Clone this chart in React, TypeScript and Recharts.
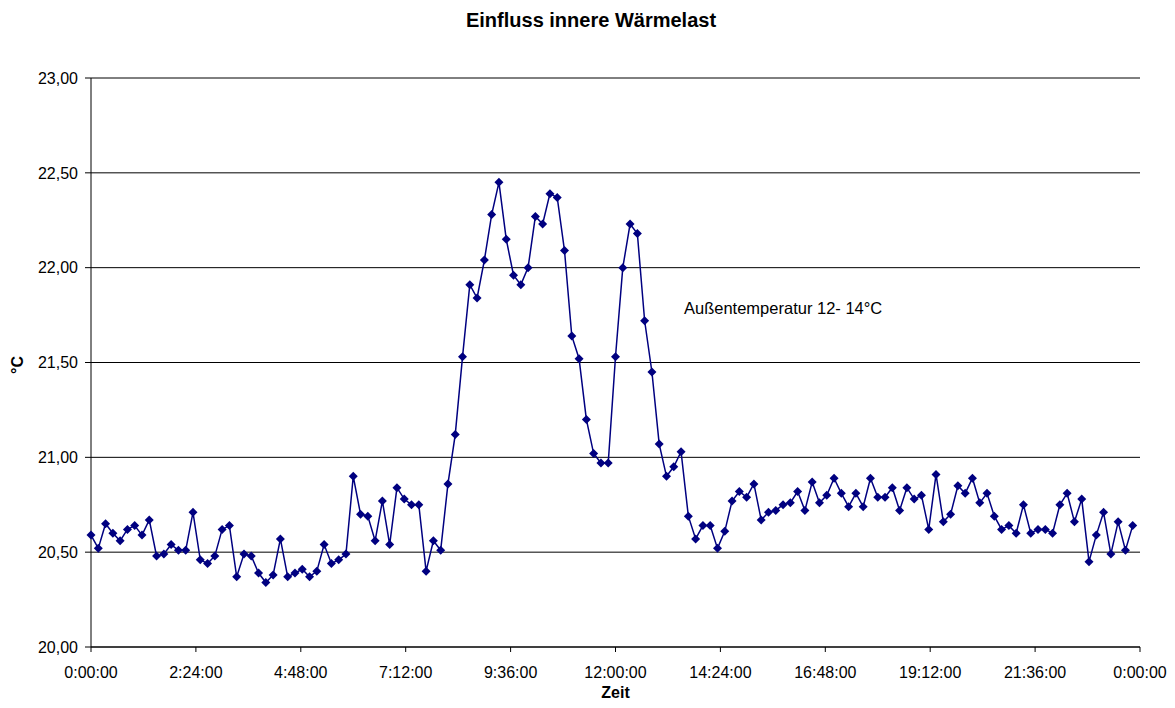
import { LineChart, Line, XAxis, YAxis, CartesianGrid } from 'recharts';

// Raumtemperatur in °C, 10-Minuten-Werte von 0:00 bis 23:50
const temps = [
  20.59, 20.52, 20.65, 20.60, 20.56, 20.62, 20.64, 20.59, 20.67, 20.48,
  20.49, 20.54, 20.51, 20.51, 20.71, 20.46, 20.44, 20.48, 20.62, 20.64,
  20.37, 20.49, 20.48, 20.39, 20.34, 20.38, 20.57, 20.37, 20.39, 20.41,
  20.37, 20.40, 20.54, 20.44, 20.46, 20.49, 20.90, 20.70, 20.69, 20.56,
  20.77, 20.54, 20.84, 20.78, 20.75, 20.75, 20.40, 20.56, 20.51, 20.86,
  21.12, 21.53, 21.91, 21.84, 22.04, 22.28, 22.45, 22.15, 21.96, 21.91,
  22.00, 22.27, 22.23, 22.39, 22.37, 22.09, 21.64, 21.52, 21.20, 21.02,
  20.97, 20.97, 21.53, 22.00, 22.23, 22.18, 21.72, 21.45, 21.07, 20.90,
  20.95, 21.03, 20.69, 20.57, 20.64, 20.64, 20.52, 20.61, 20.77, 20.82,
  20.79, 20.86, 20.67, 20.71, 20.72, 20.75, 20.76, 20.82, 20.72, 20.87,
  20.76, 20.80, 20.89, 20.81, 20.74, 20.81, 20.74, 20.89, 20.79, 20.79,
  20.84, 20.72, 20.84, 20.78, 20.80, 20.62, 20.91, 20.66, 20.70, 20.85,
  20.81, 20.89, 20.76, 20.81, 20.69, 20.62, 20.64, 20.60, 20.75, 20.60,
  20.62, 20.62, 20.60, 20.75, 20.81, 20.66, 20.78, 20.45, 20.59, 20.71,
  20.49, 20.66, 20.51, 20.64,
];

const STEP_MIN = 10;

const xTicks = [0, 144, 288, 432, 576, 720, 864, 1008, 1152, 1296, 1440];
const xLabels = [
  '0:00:00', '2:24:00', '4:48:00', '7:12:00', '9:36:00', '12:00:00',
  '14:24:00', '16:48:00', '19:12:00', '21:36:00', '0:00:00',
];
const yTicks = [20, 20.5, 21, 21.5, 22, 22.5, 23];

const data = temps.map((v, i) => ({ min: i * STEP_MIN, v }));

const FONT = '"Liberation Sans", Arial, sans-serif';
const NAVY = '#000080';

const Diamond = (props: any) => {
  const { cx, cy, index } = props;
  if (cx == null || cy == null) return null;
  const r = 4.5;
  return (
    <polygon
      key={`d-${index}`}
      points={`${cx},${cy - r} ${cx + r},${cy} ${cx},${cy + r} ${cx - r},${cy}`}
      fill={NAVY}
    />
  );
};

export default function App() {
  return (
    <div
      style={{
        position: 'relative',
        width: 1160,
        height: 692,
        fontFamily: FONT,
        color: '#000',
      }}
    >
      <div
        style={{
          position: 'absolute',
          left: 583,
          top: 2,
          transform: 'translateX(-50%)',
          fontSize: 20,
          fontWeight: 'bold',
          lineHeight: 1,
          whiteSpace: 'nowrap',
        }}
      >
        Einfluss innere Wärmelast
      </div>

      <LineChart width={1160} height={692} data={data} margin={{ top: 70, right: 28, left: 23, bottom: 0 }}>
        <CartesianGrid vertical={false} stroke="#000" strokeOpacity={1} />
        <XAxis
          dataKey="min"
          type="number"
          domain={[0, 1440]}
          ticks={xTicks}
          interval={0}
          tickFormatter={(v: number) => xLabels[xTicks.indexOf(v)]}
          height={53}
          tickSize={5}
          tickMargin={15}
          stroke="#000"
          tick={{ fill: '#000', fontSize: 16, fontFamily: FONT }}
          label={{
            value: 'Zeit',
            position: 'insideBottom',
            offset: 2,
            fill: '#000',
            fontSize: 16,
            fontWeight: 'bold',
            fontFamily: FONT,
          }}
        />
        <YAxis
          type="number"
          domain={[20, 23]}
          ticks={yTicks}
          interval={0}
          tickFormatter={(v: number) => v.toFixed(2).replace('.', ',')}
          width={60}
          tickSize={6}
          tickMargin={7}
          stroke="#000"
          tick={{ fill: '#000', fontSize: 16, fontFamily: FONT }}
        />
        <Line
          type="linear"
          dataKey="v"
          stroke={NAVY}
          strokeWidth={1.5}
          dot={Diamond}
          activeDot={false}
          isAnimationActive={false}
        />
      </LineChart>

      <div
        style={{
          position: 'absolute',
          left: 676,
          top: 292,
          fontSize: 16.5,
          lineHeight: 1,
          whiteSpace: 'nowrap',
        }}
      >
        Außentemperatur 12- 14°C
      </div>

      <div
        style={{
          position: 'absolute',
          left: 10,
          top: 357,
          transform: 'translate(-50%, -50%) rotate(-90deg)',
          fontSize: 16,
          fontWeight: 'bold',
          lineHeight: 1,
          whiteSpace: 'nowrap',
        }}
      >
        °C
      </div>
    </div>
  );
}
